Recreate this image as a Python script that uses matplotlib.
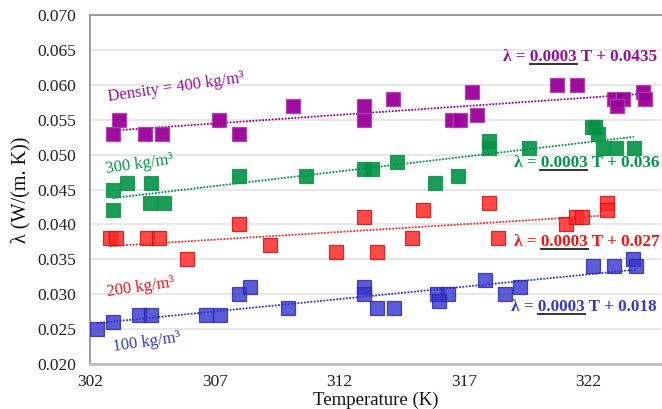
import numpy as np
import matplotlib
matplotlib.use("Agg")
import matplotlib.pyplot as plt
from matplotlib.lines import Line2D

plt.rcParams['font.family'] = ['Liberation Serif', 'DejaVu Serif']

# ---------------- data ----------------
T_400 = [302.92, 303.16, 304.21, 304.89, 307.18, 307.98, 310.15, 313.0, 313.0, 314.17,
         316.5, 316.82, 317.34, 317.54, 320.71, 321.52, 323.0, 323.37, 323.12, 324.17, 324.25]
k_400 = [0.053, 0.055, 0.053, 0.053, 0.055, 0.053, 0.057, 0.057, 0.055, 0.058,
         0.055, 0.055, 0.059, 0.0557, 0.060, 0.060, 0.058, 0.058, 0.057, 0.059, 0.058]

T_300 = [302.92, 303.49, 304.45, 302.92, 304.41, 304.97, 307.98, 310.67, 313.0, 313.29,
         314.33, 315.82, 316.74, 318.02, 318.02, 319.59, 322.12, 322.24, 322.36, 322.56, 323.08, 323.81]
k_300 = [0.045, 0.046, 0.046, 0.042, 0.043, 0.043, 0.047, 0.047, 0.048, 0.048,
         0.049, 0.046, 0.047, 0.052, 0.051, 0.051, 0.054, 0.054, 0.053, 0.051, 0.051, 0.051]

T_200 = [302.80, 303.04, 304.29, 304.77, 305.90, 307.98, 309.23, 311.88, 313.0, 313.53,
         314.93, 315.37, 318.02, 318.35, 321.08, 321.48, 321.72, 322.72, 322.72]
k_200 = [0.038, 0.038, 0.038, 0.038, 0.035, 0.040, 0.037, 0.036, 0.041, 0.036,
         0.038, 0.042, 0.043, 0.038, 0.040, 0.041, 0.041, 0.043, 0.042]

T_100 = [302.28, 302.92, 303.97, 304.45, 306.66, 307.22, 307.98, 308.43, 309.95, 313.0,
         313.0, 313.53, 314.21, 315.90, 316.34, 315.98, 317.86, 318.63, 319.23, 322.16,
         323.0, 323.77, 323.89]
k_100 = [0.025, 0.026, 0.027, 0.027, 0.027, 0.027, 0.030, 0.031, 0.028, 0.031,
         0.030, 0.028, 0.028, 0.030, 0.030, 0.029, 0.032, 0.030, 0.031, 0.034,
         0.034, 0.035, 0.034]

density_labels = ["Density = 400 kg/m³", "300 kg/m³", "200 kg/m³", "100 kg/m³"]
eq_prefix = "λ = "
eq_slope = "0.0003"
eq_intercepts = ["0.0435", "0.036", "0.027", "0.018"]

x_ticks = [302, 307, 312, 317, 322]
y_ticks = [0.020, 0.025, 0.030, 0.035, 0.040, 0.045, 0.050, 0.055, 0.060, 0.065, 0.070]

face_colors = ['#990099', '#009245', '#FF2A2A', '#3333CC']
edge_colors = ['#B040B0', '#1F8F50', '#D01010', '#2626A8']
text_colors = ['#99109A', '#00984A', '#FF1010', '#3838CC']
alphas = [0.95, 0.9, 0.85, 0.8]

series = [(T_400, k_400), (T_300, k_300), (T_200, k_200), (T_100, k_100)]

# ---------------- figure ----------------
W, H = 662, 409
fig = plt.figure(figsize=(W/100, H/100), dpi=100)
ax = fig.add_axes([90/W, 1-364/H, (661-90)/W, (364-15)/H])

for i, (T, k) in enumerate(series):
    T = np.asarray(T); k = np.asarray(k)
    ax.plot(T, k, linestyle='none', marker='s', markersize=9.6,
            markerfacecolor=face_colors[i], markeredgecolor=edge_colors[i],
            markeredgewidth=0.9, alpha=alphas[i], zorder=3)
    p = np.polyfit(T, k, 1)
    xs = np.array([T.min(), T.max()])
    ax.plot(xs, np.polyval(p, xs), linestyle=(0, (1, 0.8)), color=face_colors[i],
            linewidth=1.3, zorder=2)

ax.set_xlim(302, 324.9)
ax.set_ylim(0.020, 0.070)
ax.set_xticks(x_ticks)
ax.set_yticks(y_ticks)
ax.set_yticklabels([f"{v:.3f}" for v in y_ticks])
ax.tick_params(axis='both', length=0, labelsize=12.5, colors='#222222')
ax.tick_params(axis='y', pad=10)
ax.tick_params(axis='x', pad=7)
ax.grid(axis='y', color='#E6E6E6', linewidth=1.3)
ax.set_axisbelow(True)
for s in ['left', 'top']:
    ax.spines[s].set_color('#8C8C8C')
    ax.spines[s].set_linewidth(1.2)
ax.spines['bottom'].set_color('#BDBDBD')
ax.spines['bottom'].set_linewidth(2.0)
ax.spines['right'].set_visible(False)

fig.text(376/W, 1-400/H, "Temperature (K)", ha='center', va='center', fontsize=13.5, color='#111111')
fig.text(21/W, 1-190/H, "λ (W/(m. K))", ha='center', va='center', rotation=90,
         fontsize=14.5, color='#111111')

# density labels (pixel centers)
lab_pos = [(176, 87), (140, 164), (141, 287), (147, 342)]
for i, (px, py) in enumerate(lab_pos):
    fig.text(px/W, 1-py/H, density_labels[i], ha='center', va='center', rotation=8,
             fontsize=12, color=text_colors[i])

# equations, right aligned, with underlined slope
eq_pos = [(657, 57), (659, 163), (660, 242), (657, 307)]
fig.canvas.draw()
renderer = fig.canvas.get_renderer()
for i, (px, py) in enumerate(eq_pos):
    full = f"{eq_prefix}{eq_slope} T + {eq_intercepts[i]}"
    t = fig.text(px/W, 1-py/H, full, ha='right', va='center', fontsize=12.3,
                 fontweight='bold', color=text_colors[i])
    bb = t.get_window_extent(renderer)
    tmp1 = fig.text(0, 0, eq_prefix, fontsize=12.3, fontweight='bold')
    tmp2 = fig.text(0, 0, eq_prefix + eq_slope, fontsize=12.3, fontweight='bold')
    w1 = tmp1.get_window_extent(renderer).width
    w2 = tmp2.get_window_extent(renderer).width
    tmp1.remove(); tmp2.remove()
    x0 = (bb.x0 + w1) / W
    x1 = (bb.x0 + w2) / W
    y_ul = (bb.y0 + 1.0) / H
    fig.add_artist(Line2D([x0, x1], [y_ul, y_ul], transform=fig.transFigure,
                          color='#222222', linewidth=1.3))

fig.savefig("out.png", dpi=100)
